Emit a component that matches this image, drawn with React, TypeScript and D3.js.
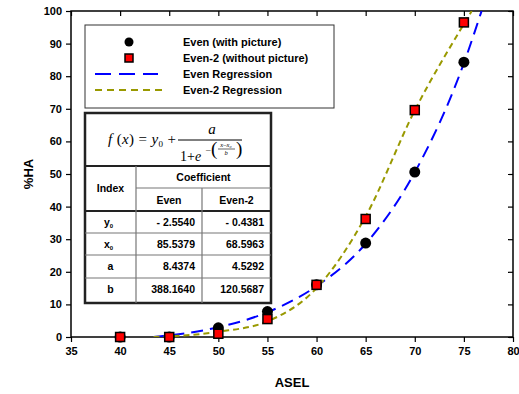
import React, { useEffect, useRef } from "react";
import * as d3 from "d3";

const aselLevels = [40, 45, 50, 55, 60, 65, 70, 75];
const evenValues = [0, 0, 2.8, 7.8, 16, 28.8, 50.6, 84.3];
const even2Values = [0, 0, 1.0, 5.5, 16, 36.2, 69.6, 96.5];

// regression curves
const evenFitX = [43.4, 45, 50, 55, 60, 65, 70, 75, 76.8];
const evenFitY = [0, 0.5, 3, 7.6, 15.6, 28.6, 50.5, 84, 100];
const even2FitX = [43.4, 45, 50, 55, 60, 65, 70, 75, 75.8];
const even2FitY = [0, 0.2, 1.6, 4.8, 15, 37, 69.5, 96, 100];

const xTicks = [35, 40, 45, 50, 55, 60, 65, 70, 75, 80];
const yTicks = [0, 10, 20, 30, 40, 50, 60, 70, 80, 90, 100];

const legendLabels = ["Even (with picture)", "Even-2 (without picture)", "Even Regression", "Even-2 Regression"];

const coefIndex = ["y", "x", "a", "b"];
const coefEven = ["- 2.5540", "85.5379", "8.4374", "388.1640"];
const coefEven2 = ["- 0.4381", "68.5963", "4.5292", "120.5687"];

const W = 519;
const H = 394;
const font = "Arial, 'Liberation Sans', sans-serif";

const App = () => {
  const svgRef = useRef<SVGSVGElement | null>(null);

  useEffect(() => {
    document.body.style.margin = "0";
    const svg = d3.select(svgRef.current);
    svg.selectAll("*").remove();

    const margin = { top: 11, right: 6, bottom: 57, left: 71 };
    const x = d3.scaleLinear().domain([35, 80]).range([margin.left, W - margin.right]);
    const y = d3.scaleLinear().domain([0, 100]).range([H - margin.bottom, margin.top]);

    svg.append("defs").append("clipPath").attr("id", "plotClip")
      .append("rect")
      .attr("x", x(35)).attr("y", y(100))
      .attr("width", x(80) - x(35)).attr("height", y(0) - y(100));

    // frame
    svg.append("rect")
      .attr("x", x(35)).attr("y", y(100))
      .attr("width", x(80) - x(35)).attr("height", y(0) - y(100))
      .attr("fill", "none").attr("stroke", "#000").attr("stroke-width", 1.5);

    const bottom = svg.append("g")
      .attr("transform", `translate(0,${y(0)})`)
      .call(d3.axisBottom(x).tickValues(xTicks).tickSize(5).tickPadding(5));
    const left = svg.append("g")
      .attr("transform", `translate(${x(35)},0)`)
      .call(d3.axisLeft(y).tickValues(yTicks).tickSize(5).tickPadding(4));
    const top = svg.append("g")
      .attr("transform", `translate(0,${y(100)})`)
      .call(d3.axisBottom(x).tickValues(xTicks).tickSize(5).tickFormat(() => ""));
    const right = svg.append("g")
      .attr("transform", `translate(${x(80)},0)`)
      .call(d3.axisLeft(y).tickValues(yTicks).tickSize(5).tickFormat(() => ""));

    [bottom, left, top, right].forEach(g => {
      g.select(".domain").remove();
      g.selectAll("line").attr("stroke", "#000").attr("stroke-width", 1.2);
      g.selectAll("text")
        .style("font-family", font)
        .style("font-size", "11px")
        .style("font-weight", "bold")
        .attr("fill", "#000");
    });

    svg.append("text")
      .attr("x", (x(35) + x(80)) / 2).attr("y", 387)
      .attr("text-anchor", "middle")
      .style("font-family", font).style("font-size", "13px").style("font-weight", "bold")
      .text("ASEL");
    svg.append("text")
      .attr("transform", `translate(33,${(y(0) + y(100)) / 2}) rotate(-90)`)
      .attr("text-anchor", "middle")
      .style("font-family", font).style("font-size", "13px").style("font-weight", "bold")
      .text("%HA");

    const line = d3.line<[number, number]>()
      .x(d => x(d[0]))
      .y(d => y(d[1]))
      .curve(d3.curveMonotoneX);

    const plot = svg.append("g").attr("clip-path", "url(#plotClip)");

    plot.append("path")
      .attr("d", line(evenFitX.map((v, i) => [v, evenFitY[i]]) as [number, number][]))
      .attr("fill", "none").attr("stroke", "#0000ff").attr("stroke-width", 2)
      .attr("stroke-dasharray", "12,7");
    plot.append("path")
      .attr("d", line(even2FitX.map((v, i) => [v, even2FitY[i]]) as [number, number][]))
      .attr("fill", "none").attr("stroke", "#999900").attr("stroke-width", 2)
      .attr("stroke-dasharray", "6,4");

    svg.selectAll(".dot")
      .data(aselLevels)
      .enter()
      .append("circle")
      .attr("cx", d => x(d))
      .attr("cy", (d, i) => y(evenValues[i]))
      .attr("r", 5.5)
      .attr("fill", "#000");

    svg.selectAll(".sq")
      .data(aselLevels)
      .enter()
      .append("rect")
      .attr("x", d => x(d) - 4.5)
      .attr("y", (d, i) => y(even2Values[i]) - 4.5)
      .attr("width", 9).attr("height", 9)
      .attr("fill", "#ff0000").attr("stroke", "#000").attr("stroke-width", 1.5);

    // legend
    const lg = svg.append("g");
    lg.append("rect")
      .attr("x", 85).attr("y", 25).attr("width", 249).attr("height", 83)
      .attr("fill", "#fff").attr("stroke", "#333").attr("stroke-width", 1);
    const rowY = [42, 58, 74, 90];
    lg.append("circle").attr("cx", 129).attr("cy", rowY[0]).attr("r", 4.5).attr("fill", "#000");
    lg.append("rect").attr("x", 125).attr("y", rowY[1] - 4).attr("width", 8).attr("height", 8)
      .attr("fill", "#ff0000").attr("stroke", "#000").attr("stroke-width", 1.5);
    lg.append("line").attr("x1", 95).attr("x2", 158).attr("y1", rowY[2]).attr("y2", rowY[2])
      .attr("stroke", "#0000ff").attr("stroke-width", 2).attr("stroke-dasharray", "16,8");
    lg.append("line").attr("x1", 95).attr("x2", 166).attr("y1", rowY[3]).attr("y2", rowY[3])
      .attr("stroke", "#999900").attr("stroke-width", 2).attr("stroke-dasharray", "7,5");
    lg.selectAll(".lt")
      .data(legendLabels)
      .enter()
      .append("text")
      .attr("x", 183)
      .attr("y", (d, i) => rowY[i] + 4)
      .style("font-family", font).style("font-size", "11px").style("font-weight", "bold")
      .text(d => d);

    // coefficient table
    const tb = svg.append("g");
    const tx0 = 85, tx1 = 136, tx2 = 202, tx3 = 271;
    const ty = [113, 166, 188, 211, 233, 255, 278, 303];
    tb.append("rect")
      .attr("x", tx0).attr("y", ty[0]).attr("width", tx3 - tx0).attr("height", ty[7] - ty[0])
      .attr("fill", "#fff").attr("stroke", "#222").attr("stroke-width", 2.5);
    const hl = (x1: number, x2: number, yy: number, w: number) =>
      tb.append("line").attr("x1", x1).attr("x2", x2).attr("y1", yy).attr("y2", yy)
        .attr("stroke", w > 1.5 ? "#222" : "#777").attr("stroke-width", w);
    const vl = (xx: number, y1: number, y2: number) =>
      tb.append("line").attr("x1", xx).attr("x2", xx).attr("y1", y1).attr("y2", y2)
        .attr("stroke", "#777").attr("stroke-width", 1.2);
    hl(tx0, tx3, ty[1], 2);
    hl(tx1, tx3, ty[2], 1.2);
    hl(tx0, tx3, ty[3], 2);
    hl(tx0, tx3, ty[4], 1.2);
    hl(tx0, tx3, ty[5], 1.2);
    hl(tx0, tx3, ty[6], 1.2);
    vl(tx1, ty[1], ty[7]);
    vl(tx2, ty[2], ty[7]);

    const cellText = (s: string, cx: number, cy: number, anchor = "middle") =>
      tb.append("text").attr("x", cx).attr("y", cy).attr("text-anchor", anchor)
        .style("font-family", font).style("font-size", "10.5px").style("font-weight", "bold")
        .text(s);
    cellText("Coefficient", (tx1 + tx3) / 2, ty[1] + 15);
    cellText("Index", (tx0 + tx1) / 2, ty[2] + 4);
    cellText("Even", (tx1 + tx2) / 2, ty[2] + 16);
    cellText("Even-2", (tx2 + tx3) / 2, ty[2] + 16);
    coefIndex.forEach((s, i) => {
      const cy = ty[3 + i] + 15;
      const t = cellText(s, (tx0 + tx1) / 2 - (i < 2 ? 2 : 0), cy);
      if (i < 2) {
        t.append("tspan").attr("dy", 2).style("font-size", "6px").text("0");
      }
      cellText(coefEven[i], tx2 - 7, cy, "end");
      cellText(coefEven2[i], tx3 - 7, cy, "end");
    });

    // formula
    const fx = tb.append("g").style("font-family", "'Liberation Serif', 'DejaVu Serif', serif");
    fx.append("text").attr("x", 108).attr("y", 144)
      .attr("textLength", 68).attr("lengthAdjust", "spacing")
      .style("font-size", "15px")
      .html("<tspan font-style='italic'>f</tspan> (<tspan font-style='italic'>x</tspan>) = <tspan font-style='italic'>y</tspan><tspan font-size='9px' dy='3'>0</tspan><tspan dy='-3'> +</tspan>");
    fx.append("line").attr("x1", 178).attr("x2", 242).attr("y1", 140).attr("y2", 140)
      .attr("stroke", "#000").attr("stroke-width", 1);
    fx.append("text").attr("x", 212).attr("y", 134).attr("text-anchor", "middle")
      .style("font-size", "15px").style("font-style", "italic").text("a");
    fx.append("text").attr("x", 180).attr("y", 161)
      .style("font-size", "14px")
      .html("1+<tspan font-style='italic'>e</tspan>");
    fx.append("text").attr("x", 206).attr("y", 152)
      .style("font-size", "9px").text("–");
    fx.append("text").attr("x", 211).attr("y", 155)
      .style("font-size", "19px").text("(");
    fx.append("text").attr("x", 236).attr("y", 155)
      .style("font-size", "19px").text(")");
    fx.append("text").attr("x", 226).attr("y", 147).attr("text-anchor", "middle")
      .style("font-size", "6.5px").style("font-style", "italic").text("x–x₀");
    fx.append("line").attr("x1", 218).attr("x2", 235).attr("y1", 149).attr("y2", 149)
      .attr("stroke", "#000").attr("stroke-width", 0.6);
    fx.append("text").attr("x", 226).attr("y", 155).attr("text-anchor", "middle")
      .style("font-size", "6.5px").style("font-style", "italic").text("b");
  }, []);

  return (
    <svg ref={svgRef} width={W} height={H} style={{ display: "block", background: "#fff" }}></svg>
  );
};

export default App;
